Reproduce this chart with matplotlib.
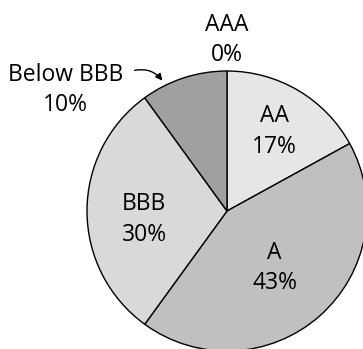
import numpy as np
import matplotlib
matplotlib.use("Agg")
import matplotlib.pyplot as plt

plt.rcParams["font.family"] = ["Open Sans", "DejaVu Sans"]

# Rating distribution, clockwise from 12 o'clock
ratings = ["AAA", "AA", "A", "BBB", "Below BBB"]
shares = [0, 17, 43, 30, 10]
colors = ["#ffffff", "#e6e6e6", "#c0c0c0", "#d9d9d9", "#a0a0a0"]

FS = 16.5
LS = 1.36

fig = plt.figure(figsize=(3.63, 3.49), dpi=100)
ax = fig.add_axes([0, 0, 1, 1])

wedges, _ = ax.pie(
    shares,
    colors=colors,
    startangle=90,
    counterclock=False,
    radius=1.0,
    wedgeprops=dict(edgecolor="black", linewidth=1.0),
)

# Labels inside the slices: (distance from centre, angle nudge in degrees)
inside_pos = {"AA": (0.66, 0), "A": (0.53, -1.5), "BBB": (0.595, 5.8)}
for w, name, val in zip(wedges, ratings, shares):
    if name not in inside_pos:
        continue
    r, nudge = inside_pos[name]
    mid = np.deg2rad((w.theta1 + w.theta2) / 2 + nudge)
    ax.text(r * np.cos(mid), r * np.sin(mid), f"{name}\n{val}%",
            ha="center", va="center", fontsize=FS, linespacing=LS)

# AAA label above the pie
ax.text(0, 1.22, f"{ratings[0]}\n{shares[0]}%", ha="center", va="center",
        fontsize=FS, linespacing=LS)

# Below BBB label with curved arrow
ax.text(-1.155, 0.865, f"{ratings[4]}\n{shares[4]}%", ha="center", va="center",
        fontsize=FS, linespacing=LS)
ax.annotate("", xy=(-0.45, 0.915), xytext=(-0.68, 1.0),
            arrowprops=dict(arrowstyle="-|>", color="black", lw=1.0,
                            mutation_scale=10,
                            connectionstyle="arc3,rad=-0.35"))

ax.set_xlim(-227 / 140, (363 - 227) / 140)
ax.set_ylim(-(349 - 211) / 140, 211 / 140)
ax.set_aspect("equal")
ax.axis("off")

fig.savefig("out.png", dpi=100)
